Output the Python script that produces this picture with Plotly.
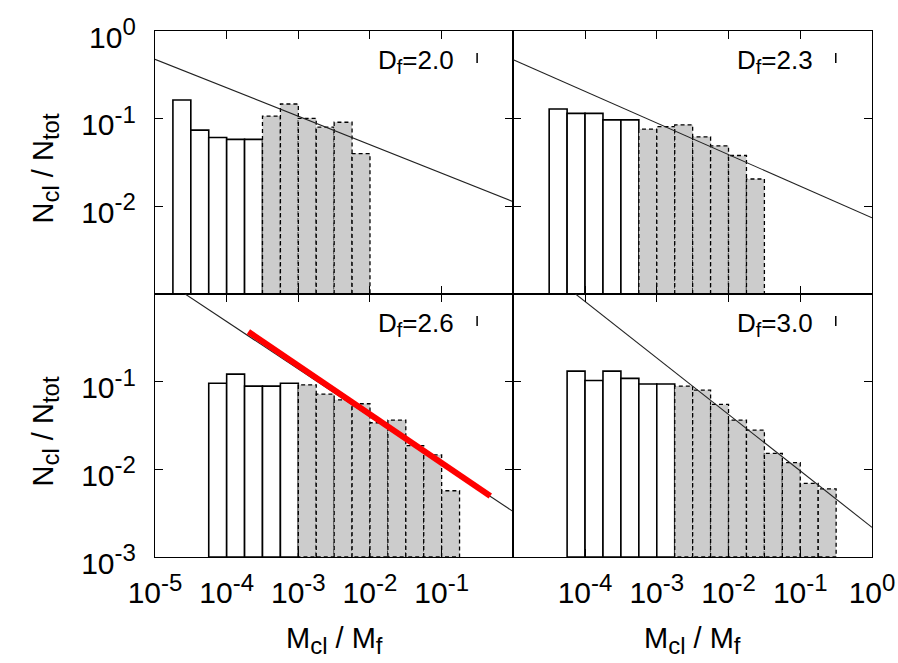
import numpy as np
import plotly.graph_objects as go

# ---- data -------------------------------------------------------------
# cluster mass fraction bins: quarter-decade logarithmic bins
BIN_W = 0.25  # bin width in decades

fractal_dims = ["2.0", "2.3", "2.6", "3.0"]

# log10 of the lower edge of the first bin in each panel
first_edge = [-4.75, -4.5, -4.25, -4.25]
# number of leading bins outside the fitted range (drawn open)
n_open = [5, 5, 5, 6]

# N_cl / N_tot per bin
counts_20 = [0.163, 0.074, 0.061, 0.058, 0.058,
             0.107, 0.147, 0.101, 0.080, 0.091, 0.040]
counts_23 = [0.129, 0.115, 0.115, 0.097, 0.097,
             0.076, 0.081, 0.085, 0.062, 0.049, 0.038, 0.0205]
counts_26 = [0.096, 0.122, 0.089, 0.089, 0.096,
             0.092, 0.072, 0.062, 0.056, 0.034, 0.0365, 0.0186, 0.0146, 0.0057]
counts_30 = [0.132, 0.103, 0.132, 0.109, 0.094, 0.094,
             0.089, 0.080, 0.055, 0.0365, 0.028, 0.0152, 0.0119, 0.0069, 0.0060]
counts = [counts_20, counts_23, counts_26, counts_30]

# power-law fits, given by their values at M_cl/M_f = 1e-5 and 1
fit_x = [1e-5, 1.0]
fit_20 = [0.475, 0.0113]
fit_23 = [0.469, 0.0074]
fit_26 = [1.69, 0.00329]
fit_30 = [3.62, 0.00218]
fits = [fit_20, fit_23, fit_26, fit_30]

# highlighted slope in the D_f = 2.6 panel
red_x = [10 ** -3.697, 10 ** -0.321]
red_y = [0.371, 0.00497]

# tick labels
SUP = "10<sup><span style='font-size:24px'>{}</span></sup>"
x_tick_vals = [1e-5, 1e-4, 1e-3, 1e-2, 1e-1, 1e0]
x_labels_left = [SUP.format(e) for e in ("-5", "-4", "-3", "-2", "-1")] + [""]
x_labels_right = [""] + [SUP.format(e) for e in ("-4", "-3", "-2", "-1", "0")]
y_tick_vals = [1e-3, 1e-2, 1e-1, 1e0]
y_labels_top = [""] + [SUP.format(e) for e in ("-2", "-1", "0")]
y_labels_bottom = [SUP.format(e) for e in ("-3", "-2", "-1")] + [""]

SUB = "<sub><span style='font-size:24px'>{}</span></sub>"
x_title = "M" + SUB.format("cl") + " / M" + SUB.format("f")
y_title = "N" + SUB.format("cl") + " / N" + SUB.format("tot")
key_fmt = "D<sub><span style='font-size:20px'>f</span></sub>={}"

# ---- layout geometry --------------------------------------------------
W, H = 898, 663
X0, XM, X1 = 155, 513.3, 872
Y0, YM, Y1 = 31, 294, 557
FONT = "Liberation Sans, Arial, Helvetica, sans-serif"

x_dom = [[X0 / W, XM / W], [XM / W, X1 / W]]
y_dom = [[1 - YM / H, 1 - Y0 / H], [1 - Y1 / H, 1 - YM / H]]
Y_BASE = 1e-3

fig = go.Figure()


def box_path(lo, hi, h):
    return [lo, lo, hi, hi, lo], [Y_BASE, h, h, Y_BASE, Y_BASE]


for k in range(4):
    row, col = divmod(k, 2)
    ax = "" if k == 0 else str(k + 1)
    xa, ya = "x" + ax, "y" + ax
    vals = counts[k]
    edges = first_edge[k] + BIN_W * np.arange(len(vals) + 1)
    for i, v in enumerate(vals):
        bx, by = box_path(10 ** edges[i], 10 ** edges[i + 1], v)
        fitted = i >= n_open[k]
        fig.add_trace(go.Scatter(
            x=bx, y=by, xaxis=xa, yaxis=ya, mode="lines",
            fill="toself",
            fillcolor="#cccccc" if fitted else "white",
            line=dict(color="black", width=1.3 if fitted else 1.6,
                      dash="4px,3px" if fitted else "solid"),
            hoverinfo="skip", showlegend=False))
    fig.add_trace(go.Scatter(
        x=fit_x, y=fits[k], xaxis=xa, yaxis=ya, mode="lines",
        line=dict(color="#222222", width=1.1),
        hoverinfo="skip", showlegend=False))
    if k == 2:
        fig.add_trace(go.Scatter(
            x=red_x, y=red_y, xaxis=xa, yaxis=ya, mode="lines",
            line=dict(color="#ff0000", width=6),
            hoverinfo="skip", showlegend=False))

    bottom = row == 1
    left = col == 0
    common = dict(
        type="log", automargin=False, ticklabeloverflow="allow",
        showline=True, linecolor="black", linewidth=1.3, mirror="allticks",
        ticks="inside", ticklen=8, tickwidth=1.2, tickcolor="black",
        showgrid=False, zeroline=False, fixedrange=True,
        tickfont=dict(family=FONT, size=30, color="black"))
    fig.layout["xaxis" + ax] = dict(
        range=[-5, 0], domain=x_dom[col], anchor=ya,
        tickvals=x_tick_vals,
        ticktext=(x_labels_left if left else x_labels_right),
        showticklabels=bottom, ticklabelstandoff=9, **common)
    fig.layout["yaxis" + ax] = dict(
        range=[-3, 0], domain=y_dom[row], anchor=xa,
        tickvals=y_tick_vals,
        ticktext=(y_labels_bottom if bottom else y_labels_top),
        showticklabels=left, ticklabelstandoff=12, ticklabelshift=6,
        **common)

    # panel key: label plus short sample mark
    fig.add_annotation(
        text=key_fmt.format(fractal_dims[k]),
        xref=xa + " domain", yref=ya + " domain",
        x=0.84, y=0.885, xanchor="right", yanchor="middle",
        showarrow=False, font=dict(family=FONT, size=26, color="black"))
    fig.add_shape(
        type="line", xref=xa + " domain", yref=ya + " domain",
        x0=0.899, x1=0.899, y0=0.878, y1=0.916,
        line=dict(color="black", width=1.5))

# axis titles
for col in range(2):
    fig.add_annotation(
        text=x_title, xref="paper", yref="paper",
        x=(x_dom[col][0] + x_dom[col][1]) / 2, y=1 - 640 / H,
        xanchor="center", yanchor="middle", showarrow=False,
        font=dict(family=FONT, size=29, color="black"))
for row in range(2):
    fig.add_annotation(
        text=y_title, xref="paper", yref="paper",
        x=45 / W, y=(y_dom[row][0] + y_dom[row][1]) / 2 - 6 / H,
        xanchor="center", yanchor="middle", textangle=-90, showarrow=False,
        font=dict(family=FONT, size=29, color="black"))

fig.update_layout(
    template="none",
    width=W, height=H, margin=dict(l=0, r=0, t=0, b=0, autoexpand=False),
    paper_bgcolor="white", plot_bgcolor="white", showlegend=False)

fig.write_html("out.html", config={"displayModeBar": False})
